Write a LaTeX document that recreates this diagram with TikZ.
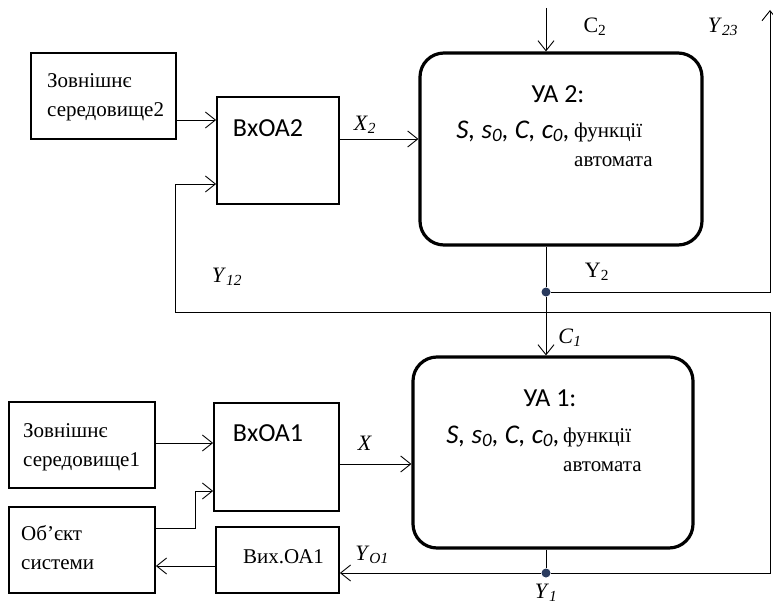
\documentclass[tikz,border=0pt]{standalone}
\usepackage{fontspec}
\setmainfont{Liberation Serif}
\newfontfamily\carlito{Carlito}
\usetikzlibrary{arrows.meta}
\definecolor{dotblue}{HTML}{2A3B5E}

\begin{document}
\begin{tikzpicture}[x=1pt,y=-1pt,
  blk/.style={draw, line width=1.8pt, inner sep=0pt},
  ua/.style={draw, line width=3.2pt, rounded corners=24pt, inner sep=0pt},
  lnk/.style={line width=0.9pt},
  arr/.style={lnk, -{Straight Barb[length=10pt,width=16pt]}},
  dot/.style={circle, fill=dotblue, inner sep=0pt, minimum size=9pt},
  txt/.style={inner sep=0pt, anchor=base west, font=\fontsize{21}{29}\selectfont, align=left},
  stxt/.style={inner sep=0pt, anchor=base, font=\carlito\fontsize{26}{29}\selectfont},
  ptxt/.style={inner sep=0pt, anchor=base east, font=\carlito\itshape\fontsize{27}{29}\selectfont},
  lbl/.style={inner sep=0pt, font=\fontsize{22}{26}\selectfont}]
\useasboundingbox (0,0) rectangle (773,610);

% upper automaton
\node[blk, minimum width=145pt, minimum height=86pt] (env2) at (103.5,96) {};
\node[blk, minimum width=122pt, minimum height=107pt] (vxoa2) at (278,150.5) {};
\node[ua, minimum width=282pt, minimum height=192pt] (ua2) at (561,149) {};
\node[txt] (env2t) at (47,116) {Зовнішнє\\середовище2};
\node[stxt] (vxoa2t) at (268,136) {ВхОА2};
\node[stxt] (ua2t) at (558,102) {УА 2:};
\node[ptxt] (ua2p) at (570,138) {S, s\textsubscript{0}, C, c\textsubscript{0},};
\node[txt] (ua2f) at (574,166) {функції\\автомата};

% lower automaton
\node[blk, minimum width=146pt, minimum height=86pt] (env1) at (82,445) {};
\node[blk, minimum width=125pt, minimum height=108pt] (vxoa1) at (276.5,457) {};
\node[blk, minimum width=146pt, minimum height=86pt] (obj) at (82,550) {};
\node[blk, minimum width=123pt, minimum height=66pt] (vyxoa1) at (277.5,560) {};
\node[ua, minimum width=280pt, minimum height=191pt] (ua1) at (553,452.5) {};
\node[txt] (env1t) at (23,466) {Зовнішнє\\середовище1};
\node[txt] (objt) at (21,569) {Об'єкт\\системи};
\node[stxt] (vxoa1t) at (268,441) {ВхОА1};
\node[txt] (vyxoa1t) at (243,563) {Вих.ОА1};
\node[stxt] (ua1t) at (550,406) {УА 1:};
\node[ptxt] (ua1p) at (560,443) {S, s\textsubscript{0}, C, c\textsubscript{0},};
\node[txt] (ua1f) at (563,471) {функції\\автомата};

% junctions
\node[dot] (y2dot) at (546,292) {};
\node[dot] (y1dot) at (546,573) {};
\coordinate (c2top) at (546,8);
\coordinate (y23top) at (770,10);
\coordinate (rb) at (770,573);
\coordinate (rt) at (770,312);
\coordinate (lt) at (175,312);

% connections
\draw[arr] (env2.east |- 0,120) -- (vxoa2.west |- 0,120);
\draw[arr] (vxoa2.east |- 0,139) -- (ua2.west |- 0,139);
\draw[arr] (c2top) -- (ua2.north -| c2top);
\draw[lnk] (ua2.south -| y2dot) -- (y2dot);
\draw[arr] (y2dot) -- (ua1.north -| y2dot);
\draw[arr] (y2dot) -| (y23top);
\draw[lnk] (ua1.south -| y1dot) -- (y1dot);
\draw[arr] (y1dot) -- (vyxoa1.east |- y1dot);
\draw[arr] (y1dot) -- (rb) -- (rt) -- (lt) |- (vxoa2.west |- 0,184);
\draw[arr] (env1.east |- 0,443) -- (vxoa1.west |- 0,443);
\draw[arr] (obj.east |- 0,528) -| (195,491) -- (vxoa1.west |- 0,491);
\draw[arr] (vxoa1.east |- 0,464) -- (ua1.west |- 0,464);
\draw[arr] (vyxoa1.west |- 0,566) -- (obj.east |- 0,566);

% labels
\node[lbl] (lx2) at (365,125) {\textit{X}\textsubscript{\textit{2}}};
\node[lbl] (lc2) at (595,27) {C\textsubscript{2}};
\node[lbl] (ly23) at (723,27) {\textit{Y}\textsubscript{\textit{23}}};
\node[lbl] (ly2) at (597,272) {Y\textsubscript{2}};
\node[lbl] (ly12) at (227,277) {\textit{Y}\textsubscript{\textit{12}}};
\node[lbl] (lc1) at (570,338) {\textit{C}\textsubscript{\textit{1}}};
\node[lbl] (lx) at (365,443) {\textit{X}};
\node[lbl] (ly01) at (372,555) {\textit{Y}\textsubscript{\textit{O1}}};
\node[lbl] (ly1) at (546,593) {\textit{Y}\textsubscript{\textit{1}}};
\end{tikzpicture}
\end{document}
